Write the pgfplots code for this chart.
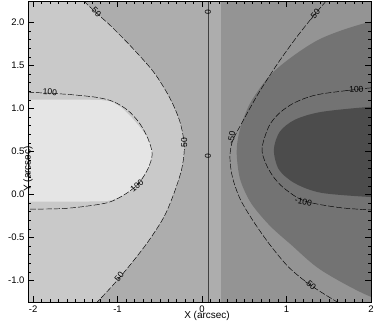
\documentclass[border=0pt]{standalone}
\usepackage{pgfplots}
\pgfplotsset{compat=1.18}
\usepackage{fontspec}
\setmainfont{Liberation Sans}
\definecolor{gA}{gray}{0.90}
\definecolor{gB}{gray}{0.79}
\definecolor{gC}{gray}{0.68}
\definecolor{gD}{gray}{0.58}
\definecolor{gE}{gray}{0.45}
\definecolor{gF}{gray}{0.30}
\begin{document}
\begin{tikzpicture}
\useasboundingbox (-28pt,-23pt) rectangle (346pt,302pt);
\begin{axis}[
  at={(0pt,0pt)}, anchor=south west, scale only axis,
  width=343pt, height=301pt,
  xmin=-2.06, xmax=2, ymin=-1.25, ymax=2.25,
  xtick={-2,-1,0,1,2}, ytick={-1,-0.5,0,0.5,1,1.5,2},
  minor x tick num=9, minor y tick num=4,
  tick align=inside, major tick length=6pt, minor tick length=3pt,
  xticklabel style={/pgf/number format/.cd, fixed, precision=0},
  yticklabel style={/pgf/number format/.cd, fixed, fixed zerofill, precision=1},
  /pgf/number format/assume math mode=true,
  ticklabel style={font=\fontsize{9.5}{11}\selectfont},
  label style={font=\fontsize{10}{12}\selectfont},
  xlabel={X (arcsec)}, ylabel={Y (arcsec)},
  xlabel style={at={(axis description cs:0.522,0)}, anchor=center, yshift=-14pt},
  ylabel style={at={(axis description cs:0,0.52)}, anchor=center, xshift=-23.5pt},
  axis line style={line width=0.6pt}, tick style={black, line width=0.5pt},
  axis on top,
]
% background region D
\addplot[fill=gD, draw=none] coordinates {(-2.5,-2) (2.5,-2) (2.5,3) (-2.5,3)} -- cycle;
% region C
\addplot[fill=gC, draw=none] coordinates {(-2.5,-2) (0.22,-2) (0.22,3) (-2.5,3)} -- cycle;
% region B (left of the +50 boundary)
\addplot[fill=gB, draw=none, smooth] coordinates {
  (-1.55,2.4) (-1.40,2.25) (-1.25,2.11) (-1.08,1.96) (-0.83,1.71) (-0.57,1.42)
  (-0.38,1.12) (-0.26,0.84) (-0.21,0.56) (-0.24,0.30) (-0.33,0.02) (-0.45,-0.26)
  (-0.64,-0.55) (-0.86,-0.83) (-1.06,-1.06) (-1.24,-1.25) (-1.40,-1.45) (-3,-1.45) (-3,2.4)} -- cycle;
% region A (white)
\addplot[fill=gA, draw=none, smooth] coordinates {
  (-2.5,1.10) (-1.25,1.10) (-1.0,1.04) (-0.82,0.88) (-0.66,0.68) (-0.59,0.50)
  (-0.64,0.30) (-0.80,0.08) (-1.0,-0.04) (-1.25,-0.08) (-2.5,-0.08)} -- cycle;
% region E
\addplot[fill=gE, draw=none, smooth] coordinates {
  (2.5,2.05) (2.0,2.01) (1.38,1.80) (0.86,1.44) (0.58,1.08) (0.45,0.76) (0.41,0.50)
  (0.45,0.18) (0.58,-0.10) (0.80,-0.36) (1.05,-0.58) (1.41,-0.88) (2.0,-1.19) (2.5,-1.30)} -- cycle;
% region F
\addplot[fill=gF, draw=none, smooth] coordinates {
  (2.5,1.04) (2.0,1.02) (1.41,0.96) (1.10,0.87) (0.92,0.73) (0.85,0.52)
  (0.91,0.29) (1.10,0.13) (1.41,0.02) (2.0,-0.03) (2.5,-0.05)} -- cycle;

% contour lines
\pgfplotsset{cline/.style={black, line width=0.45pt, dash pattern=on 6pt off 2pt, smooth}}
\addplot[cline] coordinates {
  (-2.06,1.19) (-1.60,1.165) (-1.25,1.13) (-1.05,1.08) (-0.88,0.98) (-0.74,0.83) (-0.64,0.65)
  (-0.59,0.47) (-0.64,0.30) (-0.75,0.13) (-0.90,0.01) (-1.10,-0.09) (-1.40,-0.14) (-1.68,-0.165) (-2.06,-0.17)};
\addplot[cline] coordinates {
  (-1.40,2.25) (-1.25,2.11) (-1.08,1.96) (-0.83,1.71) (-0.57,1.42)
  (-0.38,1.12) (-0.26,0.84) (-0.21,0.56) (-0.24,0.30) (-0.33,0.02) (-0.45,-0.26)
  (-0.64,-0.55) (-0.86,-0.83) (-1.06,-1.06) (-1.24,-1.25)};
\addplot[black!75, line width=0.8pt] coordinates {(0.07,-1.25) (0.07,2.25)};
\addplot[cline] coordinates {
  (1.47,2.25) (1.33,2.09) (1.12,1.83) (0.90,1.53) (0.67,1.18) (0.47,0.83)
  (0.36,0.62) (0.33,0.43) (0.36,0.20) (0.45,-0.05) (0.60,-0.30) (0.80,-0.58)
  (1.02,-0.84) (1.25,-1.03) (1.45,-1.16) (1.60,-1.25)};
\addplot[cline] coordinates {
  (2.0,1.24) (1.81,1.22) (1.36,1.16) (1.10,1.07) (0.92,0.95) (0.79,0.79) (0.71,0.52)
  (0.79,0.29) (0.94,0.10) (1.20,-0.07) (1.61,-0.15) (2.0,-0.18)};

% contour labels
\tikzset{clab/.style={font=\fontsize{8.5}{9}\selectfont, inner sep=0.5pt}}
\node[clab, rotate=-45] at (axis cs:-1.25,2.12) {50};
\node[clab, rotate=-3] at (axis cs:-1.80,1.19) {100};
\node[clab, rotate=90] at (axis cs:-0.21,0.60) {50};
\node[clab, rotate=40] at (axis cs:-0.77,0.10) {100};
\node[clab, rotate=50] at (axis cs:-0.98,-0.96) {50};
\node[clab, rotate=90] at (axis cs:0.07,2.12) {0};
\node[clab, rotate=90] at (axis cs:0.07,0.45) {0};
\node[clab, rotate=50] at (axis cs:1.33,2.09) {-50};
\node[clab, rotate=80] at (axis cs:0.35,0.66) {-50};
\node[clab, rotate=5] at (axis cs:1.81,1.22) {-100};
\node[clab, rotate=-12] at (axis cs:1.20,-0.08) {-100};
\node[clab, rotate=-40] at (axis cs:1.28,-1.05) {-50};
\end{axis}
\end{tikzpicture}
\end{document}
